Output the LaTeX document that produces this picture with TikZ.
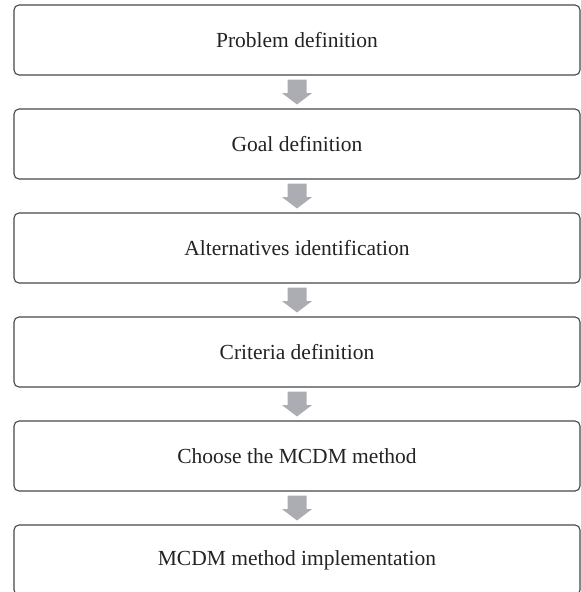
\documentclass[tikz,border=0pt]{standalone}
\usepackage{fontspec}
\setmainfont{Liberation Serif}
\begin{document}
\begin{tikzpicture}[x=1pt,y=-1pt,
  stagebox/.style={draw={rgb,255:red,70;green,70;blue,70}, line width=1.1pt,
    rounded corners=5pt, minimum width=566pt, minimum height=70pt,
    inner sep=0pt, font=\fontsize{21.5}{24}\selectfont, text={rgb,255:red,35;green,35;blue,35}},
  flowarrow/.style={fill={rgb,255:red,172;green,173;blue,178}, draw=none}]
  \useasboundingbox (0,0) rectangle (581,592);
  \clip (0,0) rectangle (581,592);
  \node[stagebox] (s1) at (297,40)  {Problem definition};
  \node[stagebox] (s2) at (297,144) {Goal definition};
  \node[stagebox] (s3) at (297,248) {Alternatives identification};
  \node[stagebox] (s4) at (297,352) {Criteria definition};
  \node[stagebox] (s5) at (297,456) {Choose the MCDM method};
  \node[stagebox] (s6) at (297,560) {MCDM method implementation};
  % block arrows between consecutive stages
  \foreach \a/\b in {s1/s2,s2/s3,s3/s4,s4/s5,s5/s6}{
    \path[flowarrow] ([shift={(-9.5,4)}]\a.south) -- ([shift={(9.5,4)}]\a.south)
      -- ([shift={(9.5,17.5)}]\a.south) -- ([shift={(15,17.5)}]\a.south)
      -- ([shift={(0,-4)}]\b.north) -- ([shift={(-15,17.5)}]\a.south)
      -- ([shift={(-9.5,17.5)}]\a.south) -- cycle;
  }
\end{tikzpicture}
\end{document}
